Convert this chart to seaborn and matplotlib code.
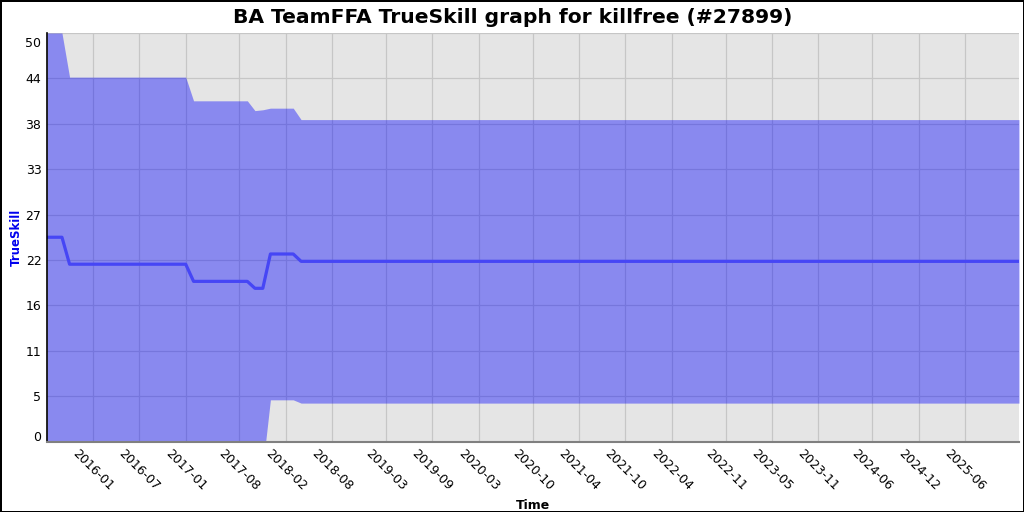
import matplotlib
matplotlib.use("Agg")
import matplotlib.pyplot as plt
import matplotlib.transforms as mtransforms
import numpy as np
import pandas as pd
import seaborn as sns

# values
dates = ["2015-07-04", "2015-09-01", "2015-10-01", "2017-01-01", "2017-02-01",
         "2017-09-01", "2017-10-01", "2017-11-01", "2017-12-01", "2018-03-01",
         "2018-04-01", "2025-12-31"]
mean = [25.0, 25.0, 21.7, 21.7, 19.6, 19.6, 18.75, 18.75, 22.95, 22.95, 22.05, 22.05]
upper = [50.0, 50.0, 44.6, 44.6, 41.7, 41.7, 40.5, 40.6, 40.8, 40.8, 39.4, 39.4]
lower = [0.0, 0.0, -1.2, -1.2, -2.5, -2.5, -3.0, -3.1, 5.1, 5.1, 4.7, 4.7]

xtick_labels = ["2016-01", "2016-07", "2017-01", "2017-08", "2018-02", "2018-08",
                "2019-03", "2019-09", "2020-03", "2020-10", "2021-04", "2021-10",
                "2022-04", "2022-11", "2023-05", "2023-11", "2024-06", "2024-12",
                "2025-06"]
ytick_labels = ["0", "5", "11", "16", "22", "27", "33", "38", "44", "50"]

data = pd.DataFrame({"Time": pd.to_datetime(dates), "TrueSkill": mean,
                     "upper": upper, "lower": lower})

sns.set_theme(style="darkgrid", rc={"axes.facecolor": "#e5e5e5",
                                    "grid.color": "#c6c6c6",
                                    "grid.linewidth": 0.9,
                                    "text.color": "black",
                                    "axes.labelcolor": "black",
                                    "xtick.color": "black",
                                    "ytick.color": "black"})
plt.rcParams["font.family"] = ["DejaVu Sans"]

fig = plt.figure(figsize=(10.24, 5.12), dpi=100)
fig.patch.set_edgecolor("black")
fig.patch.set_linewidth(2)
ax = fig.add_axes([47 / 1024, 1 - 441.5 / 512, 972 / 1024, 408.5 / 512])

ax.fill_between(data["Time"], data["lower"], data["upper"], color="#0000ff",
                alpha=0.4, linewidth=0)
sns.lineplot(data=data, x="Time", y="TrueSkill", ax=ax, color="#4646f5",
             linewidth=2.3)

ax.set_xlim(data["Time"].iloc[0], data["Time"].iloc[-1])
ax.set_ylim(0, 50)

ax.set_xticks(pd.to_datetime(xtick_labels))
ax.set_xticklabels(xtick_labels, rotation=-45, ha="center", fontsize=9)
ax.set_yticks(np.linspace(0, 50, 10))
ax.set_yticklabels(ytick_labels, fontsize=9)
ax.tick_params(axis="both", length=0, pad=4)
ylabs = ax.get_yticklabels()
# end labels are pulled inward, as in the reference
ylabs[0].set_transform(ylabs[0].get_transform() + mtransforms.Affine2D().translate(0, 5.5))
ylabs[-1].set_transform(ylabs[-1].get_transform() + mtransforms.Affine2D().translate(0, -8.7))

for side in ("top", "right"):
    ax.spines[side].set_visible(False)
ax.spines["left"].set_visible(True)
ax.spines["left"].set_color("black")
ax.spines["left"].set_linewidth(1.2)
ax.spines["bottom"].set_visible(True)
ax.spines["bottom"].set_color("#808080")
ax.spines["bottom"].set_linewidth(1.5)

ax.set_xlabel("Time", fontsize=9, fontweight="bold", color="black")
ax.set_ylabel("TrueSkill", fontsize=8.5, fontweight="bold", color="#0000ee",
              labelpad=2)
# title is centred on the figure, not on the axes
ax.set_title("BA TeamFFA TrueSkill graph for killfree (#27899)", fontsize=14.6,
             fontweight="bold", color="black", pad=7, x=(513 - 47) / 972)

fig.savefig("out.png", dpi=100)
